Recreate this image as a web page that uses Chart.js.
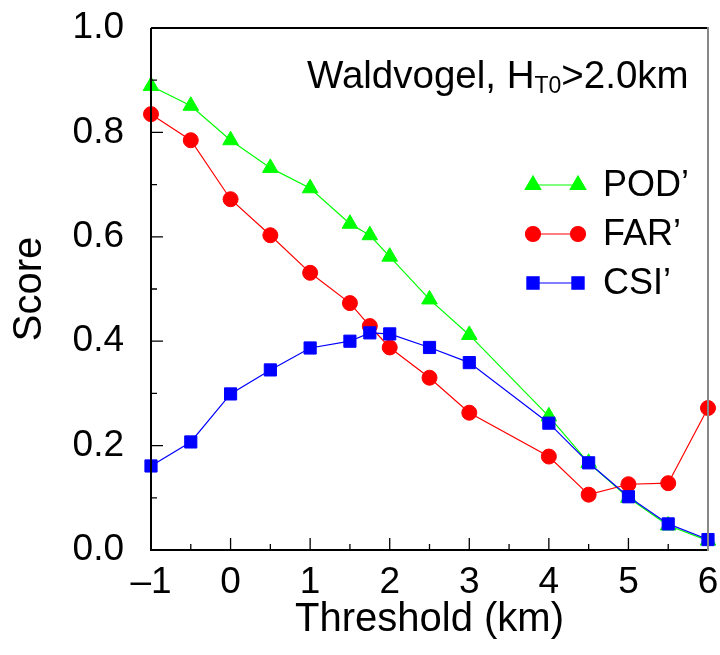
<!DOCTYPE html>
<html><head><meta charset="utf-8">
<script src="https://cdn.jsdelivr.net/npm/chart.js@4/dist/chart.umd.min.js"></script>
<style>html,body{margin:0;padding:0;background:#fff}canvas{display:block}</style>
</head><body>
<canvas id="c" width="720" height="655"></canvas>
<script>
const thresholds = [-1, -0.5, 0, 0.5, 1, 1.5, 1.75, 2, 2.5, 3, 4, 4.5, 5, 5.5, 6];
const podValues = [0.889, 0.851, 0.785, 0.732, 0.693, 0.625, 0.603, 0.562, 0.480, 0.412, 0.256, 0.167, 0.100, 0.047, 0.018];
const farValues = [0.835, 0.785, 0.672, 0.603, 0.531, 0.473, 0.429, 0.388, 0.330, 0.263, 0.179, 0.106, 0.126, 0.128, 0.272];
const csiValues = [0.161, 0.207, 0.299, 0.345, 0.387, 0.400, 0.416, 0.414, 0.388, 0.359, 0.243, 0.167, 0.102, 0.050, 0.020];
const xTickValues = [-1, 0, 1, 2, 3, 4, 5, 6];
const yTickValues = [0, 0.2, 0.4, 0.6, 0.8, 1.0];
const seriesNames = ["POD\u2019", "FAR\u2019", "CSI\u2019"];
const titleMain = "Waldvogel, H";
const titleSub = "T0";
const titleTail = ">2.0km";
const xTitle = "Threshold (km)";
const yTitle = "Score";

const FONT = "'Liberation Sans', Arial, Helvetica, sans-serif";
const styles = [
  {color: '#00ff00', pointStyle: 'triangle', radius: 9, order: 2},
  {color: '#ff0000', pointStyle: 'circle', radius: 7.5, order: 1},
  {color: '#0000ff', pointStyle: 'rect', radius: 8.6, order: 0}
];
const seriesValues = [podValues, farValues, csiValues];

const datasets = seriesValues.map((vals, i) => ({
  label: seriesNames[i],
  data: thresholds.map((x, j) => ({x: x, y: vals[j]})),
  borderColor: styles[i].color,
  backgroundColor: styles[i].color,
  pointBackgroundColor: styles[i].color,
  pointBorderColor: styles[i].color,
  pointBorderWidth: 1,
  pointStyle: styles[i].pointStyle,
  pointRadius: styles[i].radius,
  borderWidth: 1.2,
  tension: 0,
  order: styles[i].order,
  clip: false
}));

const framePlugin = {
  id: 'frame',
  afterDatasetsDraw(chart) {
    const ctx = chart.ctx;
    const a = chart.chartArea;
    const xs = chart.scales.x, ys = chart.scales.y;
    ctx.save();
    ctx.lineWidth = 2;
    ctx.strokeStyle = '#000';
    ctx.beginPath();
    ctx.moveTo(a.left, a.top); ctx.lineTo(a.right, a.top);
    ctx.moveTo(a.left, a.top); ctx.lineTo(a.left, a.bottom);
    ctx.moveTo(a.left - 1, a.bottom); ctx.lineTo(a.right, a.bottom);
    ctx.stroke();
    ctx.strokeStyle = '#888';
    ctx.beginPath();
    ctx.moveTo(a.right, a.top - 1); ctx.lineTo(a.right, a.bottom + 1);
    ctx.stroke();
    // inward ticks
    ctx.strokeStyle = '#000';
    ctx.lineWidth = 1.3;
    ctx.beginPath();
    for (let v = -1; v <= 6.001; v += 0.5) {
      const px = xs.getPixelForValue(v);
      const major = Math.abs(v - Math.round(v)) < 1e-6;
      if (v > -1 + 1e-6 && v < 6 - 1e-6) {
        ctx.moveTo(px, a.bottom); ctx.lineTo(px, a.bottom - (major ? 12 : 6));
      }
    }
    for (let k = 1; k <= 9; k++) {
      const v = k / 10;
      const py = ys.getPixelForValue(v);
      const major = k % 2 === 0;
      ctx.moveTo(a.left, py); ctx.lineTo(a.left + (major ? 12 : 6), py);
    }
    ctx.stroke();
    ctx.restore();
  },
  afterDraw(chart) {
    const ctx = chart.ctx;
    const a = chart.chartArea;
    ctx.save();
    ctx.fillStyle = '#000';
    // title with subscript
    const tx = a.left + 156, ty = a.top + 60;
    ctx.font = '38.5px ' + FONT;
    ctx.textBaseline = 'alphabetic';
    ctx.textAlign = 'left';
    ctx.fillText(titleMain, tx, ty);
    let w = ctx.measureText(titleMain).width;
    ctx.font = '23px ' + FONT;
    ctx.fillText(titleSub, tx + w, ty + 5);
    w += ctx.measureText(titleSub).width;
    ctx.font = '38.5px ' + FONT;
    ctx.fillText(titleTail, tx + w, ty);
    // legend
    const lx1 = a.left + 382, lx2 = a.left + 427, ltx = a.left + 452;
    const lys = [a.top + 157, a.top + 206, a.top + 255];
    const drawPt = (Chart.helpers && Chart.helpers.drawPoint) ? Chart.helpers.drawPoint : null;
    for (let i = 0; i < 3; i++) {
      const y = lys[i];
      ctx.strokeStyle = styles[i].color;
      ctx.lineWidth = 1.2;
      ctx.beginPath(); ctx.moveTo(lx1, y); ctx.lineTo(lx2, y); ctx.stroke();
      ctx.fillStyle = styles[i].color;
      const ps = {pointStyle: styles[i].pointStyle, radius: styles[i].radius, rotation: 0, borderWidth: 1};
      if (drawPt) {
        drawPt(ctx, ps, lx1, y);
        drawPt(ctx, ps, lx2, y);
      }
      ctx.fillStyle = '#000';
      ctx.font = '36px ' + FONT;
      ctx.textBaseline = 'middle';
      ctx.fillText(seriesNames[i], ltx, y + 1);
    }
    ctx.restore();
  }
};

new Chart(document.getElementById('c'), {
  type: 'line',
  data: {datasets: datasets},
  options: {
    responsive: false,
    animation: false,
    devicePixelRatio: 1,
    layout: {padding: {top: 28, right: 12, left: 0, bottom: 0}},
    plugins: {legend: {display: false}, tooltip: {enabled: false}, title: {display: false}},
    scales: {
      x: {
        type: 'linear',
        min: -1, max: 6,
        afterBuildTicks(scale) { scale.ticks = xTickValues.map(v => ({value: v})); },
        afterFit(scale) { scale.height = 105; scale.paddingLeft = 0; scale.paddingRight = 0; },
        grid: {display: false, drawTicks: false},
        border: {display: false},
        ticks: {
          color: '#000', padding: 11, maxRotation: 0, autoSkip: false,
          font: {family: FONT, size: 37},
          callback: v => (v < 0 ? '\u2013' + Math.abs(v) : String(v))
        },
        title: {display: true, text: xTitle, color: '#000', font: {family: FONT, size: 40}, padding: {top: 0, bottom: 11}}
      },
      y: {
        type: 'linear',
        min: 0, max: 1,
        afterBuildTicks(scale) { scale.ticks = yTickValues.map(v => ({value: v})); },
        afterFit(scale) { scale.width = 151; scale.paddingTop = 0; scale.paddingBottom = 0; },
        grid: {display: false, drawTicks: false},
        border: {display: false},
        ticks: {
          color: '#000', padding: 27, autoSkip: false,
          font: {family: FONT, size: 37},
          callback: v => Number(v).toFixed(1)
        },
        title: {display: true, text: yTitle, color: '#000', font: {family: FONT, size: 40}, padding: {top: 6, bottom: 0}}
      }
    }
  },
  plugins: [framePlugin]
});
</script>
</body></html>
